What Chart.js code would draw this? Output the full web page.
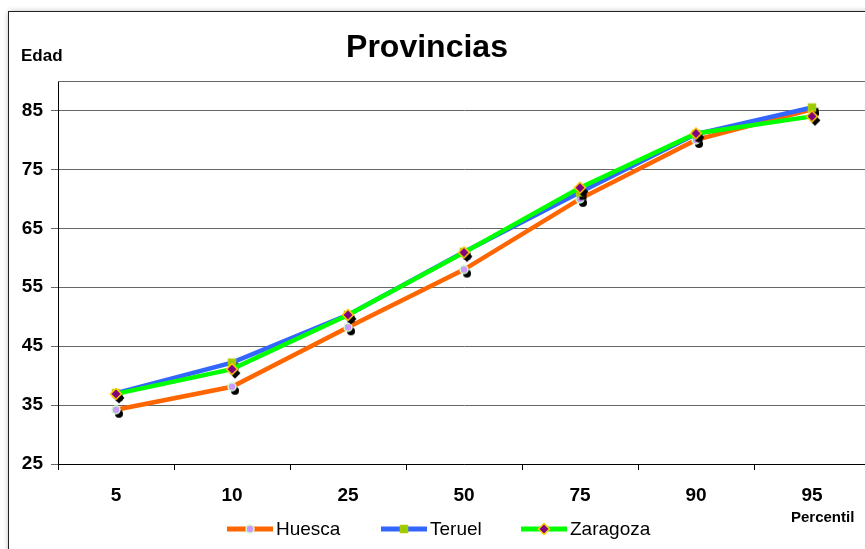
<!DOCTYPE html>
<html>
<head>
<meta charset="utf-8">
<script src="https://cdn.jsdelivr.net/npm/chart.js@4/dist/chart.umd.min.js"></script>
<style>
html,body{margin:0;padding:0;overflow:hidden;background:#fff;}
canvas{display:block;}
</style>
</head>
<body>
<canvas id="c" width="880" height="549"></canvas>
<script>
const titleText = 'Provincias';
const yTitle = 'Edad';
const xTitle = 'Percentil';
const categories = ['5', '10', '25', '50', '75', '90', '95'];
const yTicks = [25, 35, 45, 55, 65, 75, 85];
const huesca = [34.2, 38.1, 48.2, 58, 70, 80, 85.2];
const teruel = [37, 42.2, 50.3, 61, 71.1, 81, 85.5];
const zaragoza = [36.9, 41.1, 50.3, 60.9, 71.9, 81.1, 84];

const FONT = '"Liberation Sans", Arial, sans-serif';

function drawShape(ctx, kind, cx, cy, fill, stroke) {
  ctx.beginPath();
  if (kind === 'circle') {
    ctx.arc(cx, cy, 4, 0, Math.PI * 2);
  } else if (kind === 'square') {
    ctx.rect(cx - 3.5, cy - 3.5, 7, 7);
  } else {
    ctx.moveTo(cx, cy - 5.5); ctx.lineTo(cx + 5.5, cy); ctx.lineTo(cx, cy + 5.5); ctx.lineTo(cx - 5.5, cy); ctx.closePath();
  }
  ctx.fillStyle = fill; ctx.fill();
  if (stroke) { ctx.lineWidth = 1.5; ctx.strokeStyle = stroke; ctx.stroke(); }
}
function makeMarker(kind, fill, stroke, shadow) {
  const c = document.createElement('canvas');
  c.width = 26; c.height = 26;
  const ctx = c.getContext('2d');
  if (shadow) drawShape(ctx, kind, 16, 17, '#000', null);
  drawShape(ctx, kind, 13, 13, fill, stroke);
  return c;
}
const styles = [
  {kind: 'circle', line: '#FF6600', fill: '#CC99FF', stroke: '#CCFFCC'},
  {kind: 'square', line: '#3366FF', fill: '#99CC00', stroke: '#AACC00'},
  {kind: 'diamond', line: '#00FF00', fill: '#800080', stroke: '#FFCC00'}
];
const markers = styles.map(s => makeMarker(s.kind, s.fill, s.stroke, true));
const legendMarkers = styles.map(s => makeMarker(s.kind, s.fill, s.stroke, false));

const decor = {
  id: 'decor',
  beforeDraw(chart) {
    const ctx = chart.ctx;
    ctx.save();
    ctx.fillStyle = '#fff';
    ctx.fillRect(0, 0, chart.width, chart.height);
    ctx.shadowColor = 'rgba(0,0,0,0.35)';
    ctx.shadowBlur = 6;
    ctx.shadowOffsetX = 0; ctx.shadowOffsetY = 0;
    ctx.fillStyle = '#fff';
    ctx.fillRect(8.5, 11.5, 900, 600);
    ctx.shadowColor = 'transparent';
    ctx.strokeStyle = '#222';
    ctx.lineWidth = 1;
    ctx.strokeRect(8.5, 11.5, 900, 600);
    ctx.restore();
  },
  beforeDatasetsDraw(chart) {
    const ctx = chart.ctx, a = chart.chartArea;
    ctx.save();
    ctx.strokeStyle = '#666';
    ctx.lineWidth = 1;
    ctx.beginPath();
    ctx.moveTo(a.left, Math.round(a.top) + 0.5);
    ctx.lineTo(a.right, Math.round(a.top) + 0.5);
    ctx.stroke();
    ctx.restore();
  },
  afterDraw(chart) {
    const ctx = chart.ctx;
    ctx.save();
    ctx.fillStyle = '#000';
    ctx.textBaseline = 'middle';
    ctx.textAlign = 'center';
    ctx.font = 'bold 32px ' + FONT;
    ctx.fillText(titleText, 427, 48);
    ctx.textAlign = 'left';
    ctx.font = 'bold 17px ' + FONT;
    ctx.fillText(yTitle, 21, 56);
    ctx.font = 'bold 15px ' + FONT;
    ctx.fillText(xTitle, 791, 518);
    // legend
    const legX = [227, 381, 521];
    const ly = 529;
    ctx.font = '19px ' + FONT;
    chart.data.datasets.forEach((ds, i) => {
      const x0 = legX[i];
      ctx.strokeStyle = styles[i].line;
      ctx.lineWidth = 5;
      ctx.beginPath();
      ctx.moveTo(x0, ly); ctx.lineTo(x0 + 46, ly);
      ctx.stroke();
      ctx.drawImage(legendMarkers[i], x0 + 23 - 13, ly - 13);
      ctx.fillStyle = '#000';
      ctx.fillText(ds.label, x0 + 49, ly + 1);
    });
    ctx.restore();
  }
};

const mk = (label, data, i, order) => ({
  label, data,
  borderColor: styles[i].line,
  backgroundColor: styles[i].line,
  borderWidth: 4.5,
  tension: 0,
  pointStyle: markers[i],
  pointRadius: 5,
  pointHoverRadius: 5,
  order
});

new Chart(document.getElementById('c'), {
  type: 'line',
  data: {
    labels: categories,
    datasets: [
      mk('Huesca', huesca, 0, 2),
      mk('Teruel', teruel, 1, 1),
      mk('Zaragoza', zaragoza, 2, 0)
    ]
  },
  options: {
    responsive: false,
    animation: false,
    devicePixelRatio: 1,
    layout: { padding: { left: 0, top: 81, right: 10, bottom: 45 } },
    plugins: { legend: { display: false }, title: { display: false }, tooltip: { enabled: false } },
    scales: {
      x: {
        offset: true,
        afterFit: s => { s.height = 40; },
        grid: { offset: true, drawOnChartArea: false, tickLength: 6, color: '#000' },
        border: { color: '#000', width: 1 },
        ticks: { font: { family: FONT, size: 19, weight: 'bold' }, color: '#000', padding: 14, maxRotation: 0, autoSkip: false }
      },
      y: {
        min: 25, max: 90,
        afterBuildTicks: s => { s.ticks = yTicks.map(v => ({ value: v })); },
        afterFit: s => { s.width = 58; },
        grid: { color: '#666', lineWidth: 1, tickLength: 7 },
        border: { color: '#000', width: 1 },
        ticks: { font: { family: FONT, size: 19, weight: 'bold' }, color: '#000', padding: 8 }
      }
    }
  },
  plugins: [decor]
});
</script>
</body>
</html>
